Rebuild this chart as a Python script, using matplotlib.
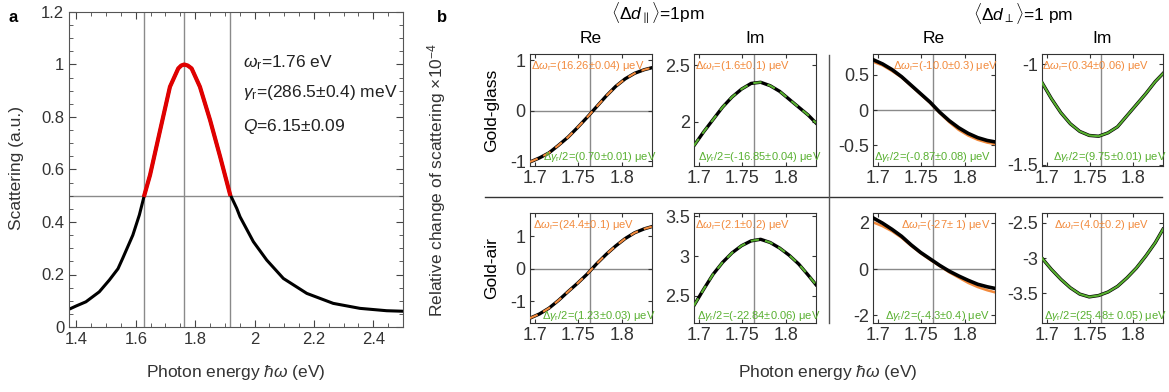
import matplotlib
matplotlib.use('Agg')
import matplotlib.pyplot as plt
from matplotlib.ticker import FuncFormatter, MultipleLocator
from matplotlib.lines import Line2D

plt.rcParams['font.family'] = ['Liberation Sans', 'DejaVu Sans']
plt.rcParams['mathtext.fontset'] = 'custom'
plt.rcParams['mathtext.rm'] = 'Liberation Sans'
plt.rcParams['mathtext.it'] = 'Liberation Sans:italic'
plt.rcParams['mathtext.bf'] = 'Liberation Sans:bold'
plt.rcParams['axes.unicode_minus'] = False

# ---- panel a: scattering spectrum ----
energy_a = [1.374, 1.399, 1.432, 1.477, 1.511, 1.540, 1.556, 1.573, 1.590, 1.612,
            1.629, 1.648, 1.680, 1.715, 1.743, 1.753, 1.763, 1.775, 1.788, 1.816,
            1.850, 1.884, 1.917, 1.940, 1.951, 1.996, 2.041, 2.097, 2.176, 2.265,
            2.355, 2.445, 2.501]
scatter_a = [0.067, 0.080, 0.096, 0.134, 0.179, 0.222, 0.262, 0.306, 0.350, 0.427,
             0.503, 0.579, 0.740, 0.915, 0.985, 0.996, 1.0, 0.996, 0.985, 0.915,
             0.789, 0.649, 0.507, 0.452, 0.420, 0.325, 0.255, 0.185, 0.128, 0.090,
             0.071, 0.062, 0.060]
e_half_lo, e_res, e_half_hi = 1.629, 1.763, 1.917

# ---- panel b: relative change of scattering (x1e-4) ----
energy_b = [1.694, 1.705, 1.716, 1.727, 1.738, 1.749, 1.760, 1.771, 1.782, 1.793,
            1.804, 1.815, 1.826, 1.835]
e_res_b = 1.763

glass_re_par = [-1.01, -0.93, -0.83, -0.68, -0.52, -0.33, -0.13, 0.08, 0.29, 0.48,
                0.63, 0.74, 0.81, 0.85]
glass_im_par = [1.79, 1.91, 2.02, 2.13, 2.22, 2.29, 2.34, 2.35, 2.32, 2.27,
                2.20, 2.13, 2.06, 1.99]
glass_re_perp = [0.71, 0.65, 0.57, 0.47, 0.35, 0.23, 0.11, -0.03, -0.15, -0.25,
                 -0.33, -0.39, -0.43, -0.45]
glass_re_perp_fit = [0.68, 0.63, 0.55, 0.46, 0.34, 0.22, 0.10, -0.04, -0.17, -0.28,
                     -0.36, -0.42, -0.46, -0.48]
glass_im_perp = [-1.09, -1.17, -1.24, -1.295, -1.333, -1.353, -1.357, -1.34, -1.31, -1.255,
                 -1.20, -1.145, -1.085, -1.045]

air_re_par = [-1.53, -1.40, -1.22, -0.98, -0.71, -0.45, -0.17, 0.15, 0.44, 0.70,
              0.93, 1.11, 1.23, 1.30]
air_im_par = [2.38, 2.58, 2.77, 2.92, 3.04, 3.13, 3.19, 3.21, 3.17, 3.10,
              3.01, 2.90, 2.76, 2.64]
air_re_perp = [2.22, 1.99, 1.72, 1.42, 1.05, 0.72, 0.44, 0.16, -0.09, -0.30,
               -0.49, -0.66, -0.77, -0.84]
air_re_perp_fit = [2.03, 1.86, 1.64, 1.36, 1.01, 0.69, 0.40, 0.13, -0.14, -0.37,
                   -0.60, -0.78, -0.92, -1.01]
air_im_perp = [-3.00, -3.16, -3.30, -3.42, -3.51, -3.55, -3.53, -3.48, -3.40, -3.28,
               -3.14, -2.97, -2.78, -2.59]

d_omega = ['(16.26±0.04)', '(1.6±0.1)', '(-10.0±0.3)', '(0.34±0.06)',
           '(24.4±0.1)', '(2.1±0.2)', '(-27± 1)', '(4.0±0.2)']
d_gamma = ['(0.70±0.01)', '(-16.85±0.04)', '(-0.87±0.08)', '(9.75±0.01)',
           '(1.23±0.03)', '(-22.84±0.06)', '(-4.3±0.4)', '(25.48± 0.05)']

ORANGE = '#f28a3c'
GREEN = '#58b030'
GRID = '#8a8a8a'

W, H = 1169, 392
fig = plt.figure(figsize=(W / 100, H / 100), dpi=100)


def px_axes(l, t, r, b):
    return fig.add_axes([l / W, 1 - b / H, (r - l) / W, (b - t) / H])


def px_text(x, y, s, **kw):
    fig.text(x / W, 1 - y / H, s, **kw)


fmt = FuncFormatter(lambda v, p: f'{v:g}')

# ---------------- panel a ----------------
ax = px_axes(69, 12, 403, 327)
for e in (e_half_lo, e_res, e_half_hi):
    ax.axvline(e, color=GRID, lw=1, zorder=1)
ax.axhline(0.5, color=GRID, lw=1, zorder=1)
ax.plot(energy_a, scatter_a, color='black', lw=2.2, zorder=2, solid_joinstyle='round')
red_e = [e for e in energy_a if e_half_lo <= e <= e_half_hi]
red_s = [s for e, s in zip(energy_a, scatter_a) if e_half_lo <= e <= e_half_hi]
ax.plot(red_e, red_s, color='#e00000', lw=3, zorder=3, solid_joinstyle='round')
ax.set_xlim(1.375, 2.5)
ax.set_ylim(0, 1.2)
ax.xaxis.set_major_locator(MultipleLocator(0.2))
ax.xaxis.set_minor_locator(MultipleLocator(0.05))
ax.yaxis.set_major_locator(MultipleLocator(0.2))
ax.yaxis.set_minor_locator(MultipleLocator(0.05))
ax.xaxis.set_major_formatter(fmt)
ax.yaxis.set_major_formatter(fmt)
ax.tick_params(which='both', direction='in', top=True, right=True, colors='#444444',
               labelcolor='#333333', labelsize=12)
ax.tick_params(which='major', length=5)
ax.tick_params(which='minor', length=3)
for sp in ax.spines.values():
    sp.set_color('#555555')
for yy, s in [(0.838, r'$\omega_\mathrm{r}$=1.76 eV'),
              (0.743, r'$\gamma_\mathrm{r}$=(286.5±0.4) meV'),
              (0.638, r'$Q$=6.15±0.09')]:
    ax.text(0.52, yy, s, transform=ax.transAxes, fontsize=12.5, color='#222222', va='center')

px_text(13, 17, 'a', fontsize=12, fontweight='bold', va='center', ha='center')
px_text(236, 372, r'Photon energy $\hbar\omega$ (eV)', fontsize=12.5, ha='center', va='center', color='#333333')
px_text(17, 168, 'Scattering (a.u.)', fontsize=12.5, ha='center', va='center', rotation=90, color='#333333')

# ---------------- panel b ----------------
cols = [(530, 652), (694, 816), (873, 995), (1042, 1163)]
rows = [(54, 166), (213, 323)]

black_data = [glass_re_par, glass_im_par, glass_re_perp, glass_im_perp,
              air_re_par, air_im_par, air_re_perp, air_im_perp]
fit_data = [glass_re_par, glass_im_par, glass_re_perp_fit, glass_im_perp,
            air_re_par, air_im_par, air_re_perp_fit, air_im_perp]
ylims = [(-1.09, 1.12), (1.61, 2.60), (-0.79, 0.79), (-1.505, -0.948),
         (-1.68, 1.72), (2.16, 3.54), (-2.34, 2.43), (-3.92, -2.36)]
yticks = [[-1, 0, 1], [2, 2.5], [-0.5, 0, 0.5], [-1.5, -1],
          [-1, 0, 1], [2.5, 3, 3.5], [-2, 0, 2], [-3.5, -3, -2.5]]
om_x = [0.47, 0.40, 0.59, 0.44, 0.44, 0.40, 0.60, 0.49]
ga_x = [0.57, 0.54, 0.49, 0.56, 0.56, 0.53, 0.53, 0.52]

for i in range(8):
    r, c = divmod(i, 4)
    ax = px_axes(cols[c][0], rows[r][0], cols[c][1], rows[r][1])
    ax.axvline(e_res_b, color=GRID, lw=1, zorder=1)
    if c in (0, 2):
        ax.axhline(0, color=GRID, lw=1, zorder=1)
    fit_col = ORANGE if c in (0, 2) else GREEN
    if c == 2:
        ax.plot(energy_b, fit_data[i], color=fit_col, lw=1.8, zorder=2)
        ax.plot(energy_b, black_data[i], color='black', lw=2.6, zorder=3,
                solid_joinstyle='round')
    else:
        ax.plot(energy_b, black_data[i], color='black', lw=2.4, zorder=2,
                solid_joinstyle='round')
        ls = (0, (4, 3)) if c in (0, 1) else '-'
        ax.plot(energy_b, fit_data[i], color=fit_col, lw=1.5, ls=ls, zorder=3)
    ax.set_xlim(1.694, 1.835)
    ax.set_ylim(*ylims[i])
    ax.set_xticks([1.7, 1.75, 1.8])
    ax.set_yticks(yticks[i])
    ax.xaxis.set_major_formatter(fmt)
    ax.yaxis.set_major_formatter(fmt)
    ax.tick_params(direction='in', top=True, right=True, length=3, labelsize=13,
                   colors='#333333', pad=3)
    for sp in ax.spines.values():
        sp.set_color('#333333')
    ty = 0.895 if r == 0 else 0.89
    by = 0.08 if r == 0 else 0.065
    ax.text(om_x[i], ty, r'$\Delta\omega_\mathrm{r}$=' + d_omega[i] + ' μeV',
            transform=ax.transAxes, ha='center', va='center', fontsize=8, color=ORANGE)
    ax.text(ga_x[i], by, r'$\Delta\gamma_\mathrm{r}$/2=' + d_gamma[i] + ' μeV',
            transform=ax.transAxes, ha='center', va='center', fontsize=8, color=GREEN)
    if r == 0:
        ax.set_title(['Re', 'Im'][c % 2], fontsize=12.5, pad=8)

# separators
fig.add_artist(Line2D([485 / W, 1162 / W], [1 - 197 / H, 1 - 197 / H],
                      transform=fig.transFigure, color='#333333', lw=1))
fig.add_artist(Line2D([829 / W, 829 / W], [1 - 55 / H, 1 - 323 / H],
                      transform=fig.transFigure, color='#555555', lw=1))

px_text(442, 17, 'b', fontsize=12, fontweight='bold', va='center', ha='center')
px_text(658, 13, r'$\langle\Delta d_{\parallel}\rangle$=1pm', fontsize=12.5, ha='center', va='center')
px_text(1023, 13, r'$\langle\Delta d_{\perp}\rangle$=1 pm', fontsize=12.5, ha='center', va='center')
px_text(492, 110, 'Gold-glass', fontsize=12.5, ha='center', va='center', rotation=90)
px_text(492, 268, 'Gold-air', fontsize=12.5, ha='center', va='center', rotation=90)
px_text(437, 180, r'Relative change of scattering ×10$^{-4}$', fontsize=12.5,
        ha='center', va='center', rotation=90, color='#333333')
px_text(828, 372, r'Photon energy $\hbar\omega$ (eV)', fontsize=12.5, ha='center', va='center', color='#333333')

fig.savefig('out.png', dpi=100)
